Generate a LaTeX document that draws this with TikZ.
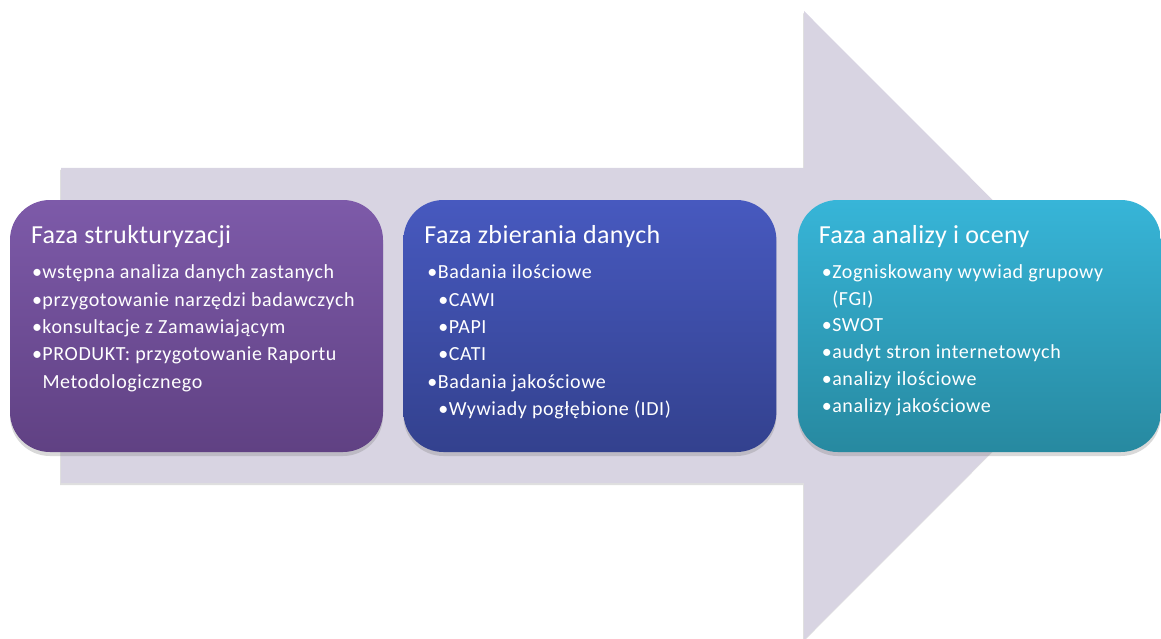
\documentclass[tikz,border=0pt]{standalone}
\usepackage{fontspec}
\setmainfont{Carlito}
\usetikzlibrary{positioning, calc, shadows}

\definecolor{strzalka}{HTML}{D8D4E2}
\definecolor{fiolet1}{HTML}{7D5AA9}
\definecolor{fiolet2}{HTML}{604183}
\definecolor{niebieski1}{HTML}{4759BF}
\definecolor{niebieski2}{HTML}{33418E}
\definecolor{turkus1}{HTML}{37B5D8}
\definecolor{turkus2}{HTML}{2789A0}

\newcommand{\pkt}{\makebox[10.5pt][l]{\textbullet}}
\newcommand{\pktt}{\hspace*{11pt}\pkt}

\begin{document}
\begin{tikzpicture}[
  x=1pt, y=-1pt,
  phase/.style={rectangle, rounded corners=40pt, minimum width=373pt, minimum height=252pt, inner sep=0pt,
    drop shadow={shadow xshift=0pt, shadow yshift=-4pt, opacity=0.3}},
  phasetitle/.style={anchor=west, inner sep=0pt, text=white, font=\fontsize{26}{30}\selectfont\addfontfeatures{LetterSpace=1.5}},
  phaseitems/.style={anchor=north west, inner sep=0pt, text=white, align=left, font=\fontsize{20}{27.3}\selectfont\addfontfeatures{LetterSpace=3}}
]
\useasboundingbox (0,0) rectangle (1161,639);

% Background arrow
\fill[strzalka, drop shadow={shadow xshift=-1pt, shadow yshift=-2pt, opacity=0.25}]
  (61,168) -- (804,168) -- (804,11) -- (1118,325.5) -- (804,640) -- (804,483) -- (61,483) -- cycle;

% Phase boxes
\node[phase, top color=fiolet1, bottom color=fiolet2] (struk) at (196.5,326) {};
\node[phase, top color=niebieski1, bottom color=niebieski2, right=20pt of struk] (zbier) {};
\node[phase, top color=turkus1, bottom color=turkus2, minimum width=363pt, right=21pt of zbier] (analiza) {};

% Titles
\node[phasetitle] (struk-tytul) at ($(struk.north west)+(21,37)$) {Faza strukturyzacji};
\node[phasetitle] (zbier-tytul) at ($(zbier.north west)+(21,37)$) {Faza zbierania danych};
\node[phasetitle] (analiza-tytul) at ($(analiza.north west)+(21,37)$) {Faza analizy i oceny};

% Bullet lists
\node[phaseitems] (struk-lista) at ($(struk.north west)+(22,65)$) {%
  \pkt wstępna analiza danych zastanych\\
  \pkt przygotowanie narzędzi badawczych\\
  \pkt konsultacje z Zamawiającym\\
  \pkt PRODUKT: przygotowanie Raportu\\
  \hspace*{10.5pt}Metodologicznego};
\node[phaseitems] (zbier-lista) at ($(zbier.north west)+(24,65)$) {%
  \pkt Badania ilościowe\\
  \pktt CAWI\\
  \pktt PAPI\\
  \pktt CATI\\
  \pkt Badania jakościowe\\
  \pktt Wywiady pogłębione (IDI)};
\node[phaseitems, font=\fontsize{20}{26.8}\selectfont\addfontfeatures{LetterSpace=3}] (analiza-lista) at ($(analiza.north west)+(24,64.5)$) {%
  \pkt Zogniskowany wywiad grupowy\\
  \hspace*{10.5pt}(FGI)\\
  \pkt SWOT\\
  \pkt audyt stron internetowych\\
  \pkt analizy ilościowe\\
  \pkt analizy jakościowe};

\end{tikzpicture}
\end{document}
